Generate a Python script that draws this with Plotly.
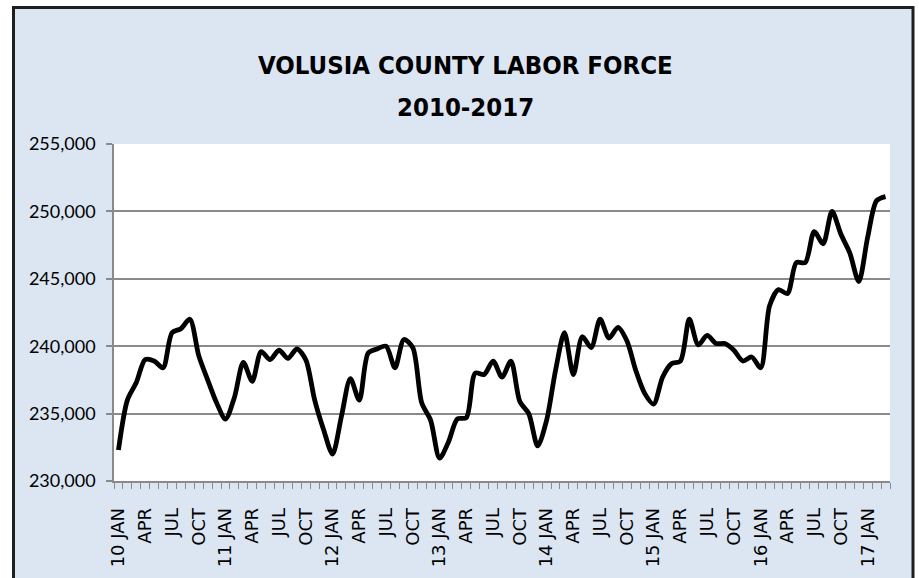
import plotly.graph_objects as go

# Monthly labor force, Jan 2010 - Mar 2017
labor_force = [
    232300, 236000, 237300, 239000, 238900, 238400, 241000, 241300, 242000, 239300, 237500, 235800,  # 2010
    234600, 236200, 238800, 237400, 239600, 239000, 239700, 239100, 239800, 239000, 236000, 233800,  # 2011
    232000, 234800, 237600, 236000, 239500, 239800, 240000, 238400, 240500, 239900, 235800, 234500,  # 2012
    231700, 232900, 234600, 234700, 238000, 237900, 238900, 237700, 238900, 235900, 235000, 232600,  # 2013
    234500, 238200, 241000, 237900, 240700, 239900, 242000, 240600, 241400, 240400, 238200, 236500,  # 2014
    235700, 237700, 238700, 238900, 242000, 240100, 240800, 240200, 240200, 239700, 238900, 239200,  # 2015
    238400, 243000, 244200, 243900, 246200, 246200, 248500, 247600, 250000, 248300, 246900, 244800,  # 2016
    248100, 250800, 251100,                                                                          # 2017
]

tick_labels = [
    "10 JAN", "APR", "JUL", "OCT",
    "11 JAN", "APR", "JUL", "OCT",
    "12 JAN", "APR", "JUL", "OCT",
    "13 JAN", "APR", "JUL", "OCT",
    "14 JAN", "APR", "JUL", "OCT",
    "15 JAN", "APR", "JUL", "OCT",
    "16 JAN", "APR", "JUL", "OCT",
    "17 JAN",
]

y_ticks = [230000, 235000, 240000, 245000, 250000, 255000]

title_line1 = "VOLUSIA COUNTY LABOR FORCE"
title_line2 = "2010-2017"

months = list(range(len(labor_force)))
tick_pos = [3 * i for i in range(len(tick_labels))]
boundaries = [i - 0.5 for i in range(len(labor_force) + 1)]

fig = go.Figure()
fig.add_trace(go.Scatter(
    x=months, y=labor_force, mode="lines",
    line=dict(color="black", width=4.8, shape="spline", smoothing=0.8),
    showlegend=False,
))

W, H = 919, 578
L, R, T, B = 114, 29, 144, 97
pw, ph = W - L - R, H - T - B

def px_x(px):
    return (px - L) / pw

def px_y(py):
    return (H - B - py) / ph

grid = "#8a8a8a"
bg = "#dce6f2"
title_font = dict(family="DejaVu Sans Condensed, DejaVu Sans, sans-serif",
                  size=25.5, color="black")

fig.update_layout(
    width=W, height=H,
    margin=dict(l=L, r=R, t=T, b=B),
    paper_bgcolor="white",
    plot_bgcolor="white",
    xaxis=dict(
        range=[-0.5, len(labor_force) - 0.5],
        tickmode="array", tickvals=tick_pos, ticktext=tick_labels,
        tickangle=-90, ticks="",
        tickfont=dict(family="DejaVu Sans", size=18, color="black"),
        ticklabelstandoff=18,
        showgrid=False, zeroline=False,
        showline=True, linecolor=grid, linewidth=1.5,
        minor=dict(tickmode="array", tickvals=boundaries, ticks="outside",
                   ticklen=6, tickcolor=grid, tickwidth=1.2, showgrid=False),
    ),
    yaxis=dict(
        range=[230000, 255000],
        tickmode="array", tickvals=y_ticks,
        tickformat=",",
        tickfont=dict(family="Lato, Open Sans", size=18, color="black"),
        ticks="outside", ticklen=6, tickcolor=grid, tickwidth=1.5,
        ticklabelstandoff=7,
        showgrid=True, gridcolor=grid, gridwidth=1.5,
        zeroline=False,
        showline=True, linecolor=grid, linewidth=1.5,
    ),
    shapes=[
        dict(type="rect", xref="paper", yref="paper", layer="below",
             x0=px_x(13.5), x1=px_x(913), y0=px_y(582), y1=px_y(7.5),
             fillcolor=bg, line=dict(color="#1e1e1e", width=3)),
        dict(type="rect", xref="paper", yref="paper", layer="below",
             x0=0, x1=1, y0=0, y1=1, fillcolor="white", line=dict(width=0)),
    ],
    annotations=[
        dict(text="<b>" + title_line1 + "</b>", xref="paper", yref="paper",
             x=px_x(465), y=px_y(65), xanchor="center", yanchor="middle",
             showarrow=False, font=title_font),
        dict(text="<b>" + title_line2 + "</b>", xref="paper", yref="paper",
             x=px_x(465), y=px_y(107), xanchor="center", yanchor="middle",
             showarrow=False, font=title_font),
    ],
)

fig.write_html("out.html", config={"displayModeBar": False},
               post_script="document.body.style.margin='0';")
